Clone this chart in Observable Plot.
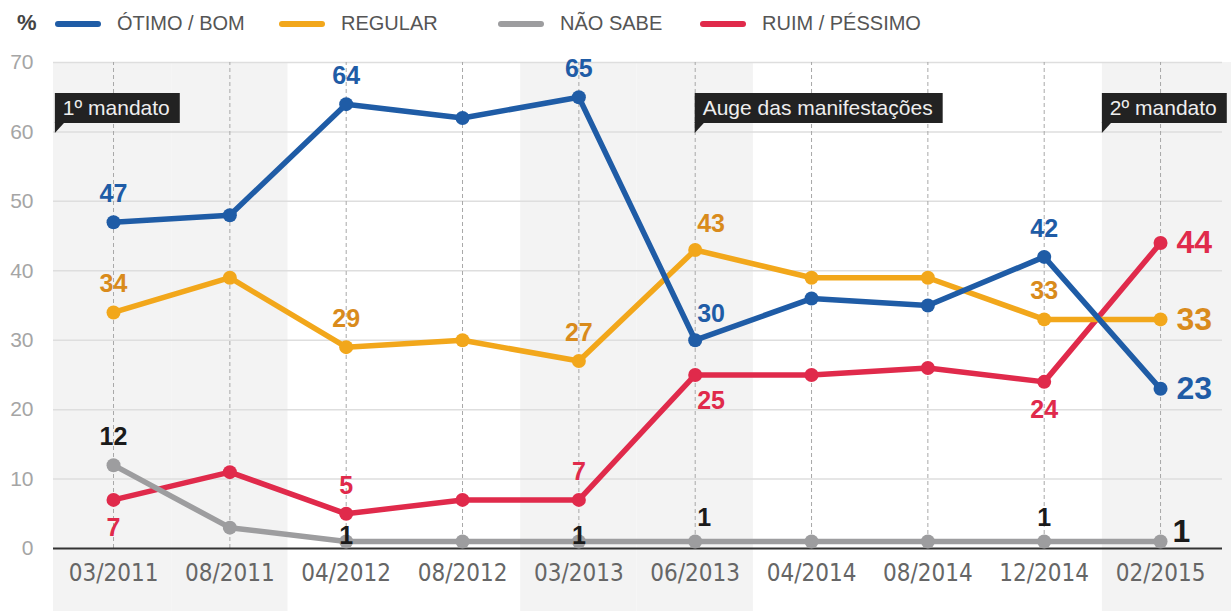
<!DOCTYPE html>
<html>
<head>
<meta charset="utf-8">
<script src="https://cdn.jsdelivr.net/npm/d3@7"></script>
<script src="https://cdn.jsdelivr.net/npm/@observablehq/plot@0.6"></script>
<style>
  html, body { margin: 0; padding: 0; background: #fff; }
  body { width: 1231px; height: 611px; overflow: hidden; font-family: "Liberation Sans", Arial, sans-serif; }
  #legend { position: relative; width: 1231px; height: 45px; }
  #legend .pct { position: absolute; left: 17px; top: 10px; font-size: 22px; font-weight: bold; color: #444; }
  #legend .sw { position: absolute; top: 21px; width: 46px; height: 6px; border-radius: 3px; }
  #legend .lb { position: absolute; top: 12px; font-size: 20px; color: #555; white-space: nowrap; }
  #chart svg { display: block; }
</style>
</head>
<body>
<div id="legend"></div>
<div id="chart"></div>
<script>
// ---- data ----
const dates = ["03/2011", "08/2011", "04/2012", "08/2012", "03/2013", "06/2013", "04/2014", "08/2014", "12/2014", "02/2015"];
const seriesNames = ["ÓTIMO / BOM", "REGULAR", "NÃO SABE", "RUIM / PÉSSIMO"];
const otimoBom   = [47, 48, 64, 62, 65, 30, 36, 35, 42, 23];
const regular    = [34, 39, 29, 30, 27, 43, 39, 39, 33, 33];
const naoSabe    = [12,  3,  1,  1,  1,  1,  1,  1,  1,  1];
const ruimPessimo = [7, 11,  5,  7,  7, 25, 25, 26, 24, 44];
const yTicks = [0, 10, 20, 30, 40, 50, 60, 70];
const eventLabels = ["1º mandato", "Auge das manifestações", "2º mandato"];
const eventDates  = ["03/2011", "06/2013", "02/2015"];
const eventAnchors = ["band", "point", "band"];

// ---- styles / layout ----
const lineColors  = ["#1f5ca6", "#f2a71b", "#9d9d9f", "#e02a4b"];
const labelColors = ["#1f5ca6", "#d98b1c", "#1a1a1a", "#e02a4b"];
const legendLefts = [55, 279, 498, 700];
// which points carry a value label, and where
const labelPlacement = [
  {0: "above", 2: "above", 4: "above", 5: "aboveStart", 8: "above", 9: "end"},
  {0: "above", 2: "above", 4: "above", 5: "aboveStart", 8: "above", 9: "end"},
  {0: "above", 2: "on", 4: "on", 5: "aboveStartG", 8: "aboveG", 9: "endG"},
  {0: "below", 2: "above", 4: "above", 5: "belowStart", 8: "below", 9: "end"}
];
const placementStyle = {
  above:       {dx: 0,  dy: -28, textAnchor: "middle", fontSize: 25},
  aboveG:      {dx: 0,  dy: -24, textAnchor: "middle", fontSize: 25},
  aboveStart:  {dx: 2,  dy: -26, textAnchor: "start",  fontSize: 25},
  aboveStartG: {dx: 2,  dy: -24, textAnchor: "start",  fontSize: 25},
  below:       {dx: 0,  dy: 28,  textAnchor: "middle", fontSize: 25},
  belowStart:  {dx: 2,  dy: 26,  textAnchor: "start",  fontSize: 25},
  on:          {dx: 0,  dy: -6,  textAnchor: "middle", fontSize: 25},
  end:         {dx: 16, dy: 0,   textAnchor: "start",  fontSize: 32},
  endG:        {dx: 12, dy: -10, textAnchor: "start",  fontSize: 32}
};
const drawOrder = [3, 2, 1, 0];
const xDomain = [-0.516, 9.61];

// ---- legend ----
const legend = document.getElementById("legend");
legend.innerHTML = `<div class="pct">%</div>` + seriesNames.map((s, k) =>
  `<div class="sw" style="left:${legendLefts[k]}px;background:${lineColors[k]}"></div>` +
  `<div class="lb" style="left:${legendLefts[k] + 62}px">${s}</div>`).join("");

// ---- derived tables ----
const valuesBySeries = [otimoBom, regular, naoSabe, ruimPessimo];
const n = dates.length;
const rowsBySeries = valuesBySeries.map((vals, k) => vals.map((v, i) => ({series: seriesNames[k], i, date: dates[i], value: v})));
const bands = dates.map((d, i) => ({
  year: +d.slice(3),
  x1: i === 0 ? xDomain[0] : i - 0.5,
  x2: i === n - 1 ? xDomain[1] : i + 0.5
})).filter(b => b.year % 2 === 1);

const font = '"Liberation Sans", Arial, sans-serif';
const marks = [
  Plot.rect(bands, {x1: "x1", x2: "x2", fill: "#f3f3f3", insetBottom: -63}),
  Plot.ruleY(yTicks.filter(d => d > 0), {stroke: "#dedede", strokeWidth: 1.5, insetRight: 9}),
  Plot.ruleX(d3.range(n), {y1: 0, y2: 70, stroke: "#a8a8a8", strokeWidth: 1, strokeDasharray: "4,3"}),
  Plot.ruleY([0], {stroke: "#333", strokeWidth: 2, insetRight: 9}),
  Plot.axisY({ticks: yTicks, tickSize: 0, tickPadding: 20, fontSize: 21, fill: "#a5a5a5", label: null}),
  Plot.axisX({ticks: d3.range(n), tickFormat: i => dates[i], tickSize: 0, tickPadding: 15, fontSize: 24, label: null,
              fill: "#666", fontFamily: '"Liberation Sans Narrow", "DejaVu Sans Condensed", "Liberation Sans", Arial, sans-serif'})
];
for (const k of drawOrder) {
  marks.push(Plot.line(rowsBySeries[k], {x: "i", y: "value", stroke: lineColors[k], strokeWidth: 5.5, strokeLinejoin: "round", strokeLinecap: "round"}));
  marks.push(Plot.dot(rowsBySeries[k], {x: "i", y: "value", fill: lineColors[k], r: 7}));
}
for (const k of drawOrder) {
  const groups = d3.group(rowsBySeries[k].filter(r => labelPlacement[k][r.i]), r => labelPlacement[k][r.i]);
  for (const [pl, rows] of groups) {
    const st = placementStyle[pl];
    marks.push(Plot.text(rows, {x: "i", y: "value", text: d => String(d.value), fill: labelColors[k],
      fontWeight: "bold", fontSize: st.fontSize, dx: st.dx, dy: st.dy, textAnchor: st.textAnchor, fontFamily: font}));
  }
}

const plot = Plot.plot({
  width: 1231, height: 566,
  marginTop: 17, marginBottom: 63, marginLeft: 53, marginRight: 0,
  x: {type: "linear", domain: xDomain, label: null},
  y: {domain: [0, 70], label: null},
  style: {fontFamily: font, background: "transparent", overflow: "visible"},
  marks
});
document.getElementById("chart").appendChild(plot);

// ---- event annotation boxes (positioned through the plot's x scale) ----
const xs = plot.scale("x");
const svg = d3.select(plot);
eventLabels.forEach((label, e) => {
  const i = dates.indexOf(eventDates[e]);
  const xv = eventAnchors[e] === "band" ? Math.max(xDomain[0], i - 0.5) : i;
  const x = xs.apply(xv);
  const top = 48, h = 30;
  const g = svg.append("g").attr("text-anchor", "start");
  const t = g.append("text").attr("x", x + 8).attr("y", top + 22).attr("fill", "#eeeeee")
    .attr("text-anchor", "start").attr("font-size", 21).attr("font-family", font).text(label);
  const w = t.node().getComputedTextLength();
  g.insert("rect", "text").attr("x", x).attr("y", top).attr("width", w + 18).attr("height", h).attr("fill", "#222");
  g.insert("path", "text").attr("d", `M${x},${top + h - 1}L${x},${top + h + 10}L${x + 10},${top + h - 1}Z`).attr("fill", "#222");
});
</script>
</body>
</html>
